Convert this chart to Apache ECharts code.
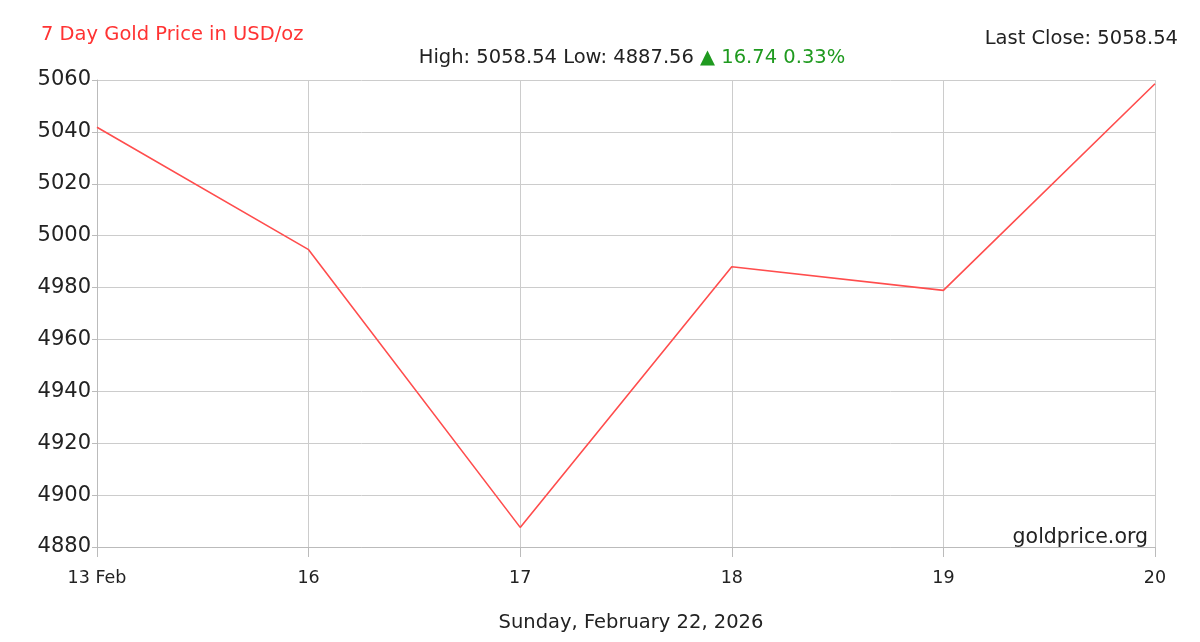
<!DOCTYPE html>
<html>
<head>
<meta charset="utf-8">
<script src="https://cdn.jsdelivr.net/npm/echarts@6/dist/echarts.min.js"></script>
<style>html,body{margin:0;padding:0;background:#fff}#c{width:1200px;height:642px}</style>
</head>
<body>
<div id="c"></div>
<script>
const categories = ['13 Feb', '16', '17', '18', '19', '20'];
const prices = [5041.80, 4994.6, 4887.56, 4988.0, 4978.9, 5058.54];
const yTicks = { min: 4880, max: 5060, interval: 20 };
const titleText = '7 Day Gold Price in USD/oz';
const lastCloseText = 'Last Close: 5058.54';
const statsText = { high: '5058.54', low: '4887.56', change: '16.74', pct: '0.33%' };
const dateText = 'Sunday, February 22, 2026';
const sourceText = 'goldprice.org';

const font = '"DejaVu Sans", Verdana, sans-serif';
const chart = echarts.init(document.getElementById('c'), null, { renderer: 'canvas' });
chart.setOption({
  animation: false,
  backgroundColor: '#fff',
  textStyle: { fontFamily: font },
  title: [
    { text: titleText, left: 36, top: 20, textStyle: { fontFamily: font, fontSize: 19.5, fontWeight: 'normal', color: '#ff3333' } },
    { text: lastCloseText, right: 17, top: 24, textStyle: { fontFamily: font, fontSize: 19.5, fontWeight: 'normal', color: '#222' } },
    {
      text: '{k|High: ' + statsText.high + ' Low: ' + statsText.low + ' }{g|▲ ' + statsText.change + ' ' + statsText.pct + '}',
      left: 627, top: 43, textAlign: 'center',
      textStyle: { fontFamily: font, fontSize: 19.5, fontWeight: 'normal', rich: {
        k: { fontFamily: font, fontSize: 19.5, color: '#222' },
        g: { fontFamily: font, fontSize: 19.5, color: '#1f9a1f' }
      } }
    },
    { text: dateText, left: 626, top: 608, textAlign: 'center', textStyle: { fontFamily: font, fontSize: 19.5, fontWeight: 'normal', color: '#222' } },
    { text: sourceText, right: 47, top: 522, textStyle: { fontFamily: font, fontSize: 20.5, fontWeight: 'normal', color: '#222' } }
  ],
  grid: { left: 97, right: 45, top: 80, bottom: 95, containLabel: false },
  xAxis: {
    type: 'category', data: categories, boundaryGap: false,
    axisLine: { lineStyle: { color: '#bbb', width: 1 } },
    axisTick: { show: true, length: 10, lineStyle: { color: '#bbb' } },
    axisLabel: { fontFamily: font, fontSize: 17.5, color: '#222', margin: 22 },
    splitLine: { show: true, lineStyle: { color: '#cccccc', width: 1 } }
  },
  yAxis: {
    type: 'value', min: yTicks.min, max: yTicks.max, interval: yTicks.interval,
    axisLine: { show: true, lineStyle: { color: '#bbb', width: 1 } },
    axisTick: { show: true, length: 5, lineStyle: { color: '#bbb' } },
    axisLabel: { fontFamily: font, fontSize: 21, color: '#222', margin: 6, formatter: v => String(v) },
    splitLine: { show: true, lineStyle: { color: '#cccccc', width: 1 } }
  },
  series: [{
    type: 'line', data: prices, symbol: 'none',
    lineStyle: { color: '#ff4d4d', width: 1.6 }
  }]
});
</script>
</body>
</html>
